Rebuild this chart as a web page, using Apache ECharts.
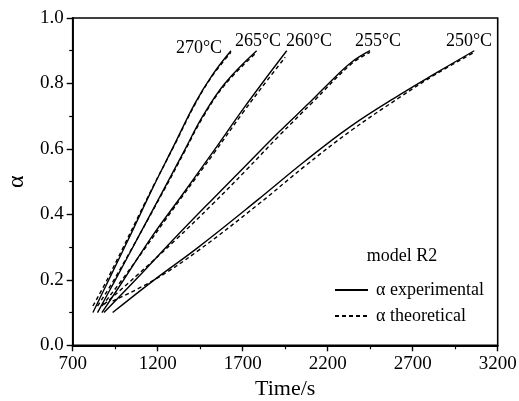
<!DOCTYPE html>
<html>
<head>
<meta charset="utf-8">
<script src="https://cdn.jsdelivr.net/npm/echarts@6/dist/echarts.min.js"></script>
<style>
html,body{margin:0;padding:0;background:#fff;}
#chart{width:519px;height:401px;}
</style>
</head>
<body>
<div id="chart"></div>
<script>
// ---- data (time in s, alpha) ----
const tempLabels = ['270°C', '265°C', '260°C', '255°C', '250°C'];

const exp270 = [[819,0.10],[912,0.20],[1038,0.335],[1166,0.4755],[1295,0.61],[1420,0.74],[1520,0.825],[1631,0.90]];
const exp265 = [[846,0.10],[951,0.20],[1090,0.335],[1235,0.4755],[1360,0.598],[1465,0.70],[1595,0.80],[1782,0.90]];
const exp260 = [[872,0.10],[1000,0.20],[1170,0.335],[1345,0.46],[1535,0.598],[1700,0.72],[1845,0.822],[1959,0.90]];
const exp255 = [[884,0.10],[1070,0.20],[1305,0.33],[1520,0.445],[1720,0.55],[1910,0.65],[2110,0.75],[2225,0.81],[2340,0.865],[2449,0.90]];
const exp250 = [[935,0.10],[1180,0.20],[1440,0.30],[1790,0.445],[2060,0.56],[2335,0.669],[2625,0.766],[2841,0.833],[3062,0.90]];

const theo270 = [[819,0.12],[912,0.21],[1166,0.478],[1295,0.608],[1420,0.737],[1520,0.822],[1631,0.895]];
const theo265 = [[846,0.12],[951,0.207],[1235,0.472],[1360,0.594],[1465,0.696],[1595,0.796],[1782,0.895]];
const theo260 = [[872,0.12],[1000,0.207],[1345,0.455],[1535,0.59],[1700,0.71],[1845,0.81],[1950,0.88]];
const theo255 = [[884,0.125],[1070,0.21],[1305,0.322],[1520,0.43],[1720,0.535],[1910,0.638],[2110,0.742],[2340,0.86],[2449,0.895]];
const theo250 = [[935,0.135],[1180,0.20],[1440,0.29],[1790,0.43],[2060,0.545],[2335,0.655],[2625,0.758],[2841,0.83],[3062,0.895]];

const xMin = 700, xMax = 3200, xStep = 500;
const yMin = 0, yMax = 1.0, yStep = 0.2;

const expName = 'α experimental';
const theoName = 'α theoretical';
const modelText = 'model R2';

// ---- chart ----
const FONT = '"Liberation Serif", "Times New Roman", serif';
const chart = echarts.init(document.getElementById('chart'), null, {renderer: 'canvas'});

const expSets = [exp270, exp265, exp260, exp255, exp250];
const theoSets = [theo270, theo265, theo260, theo255, theo250];

const series = [];
expSets.forEach(d => series.push({
  name: expName, type: 'line', data: d, symbol: 'none', showSymbol: false, smooth: 0.4,
  lineStyle: {color: '#000', width: 1.4, type: 'solid'}, itemStyle: {color: '#000'},
  z: 3
}));
theoSets.forEach(d => series.push({
  name: theoName, type: 'line', data: d, symbol: 'none', showSymbol: false, smooth: 0.4,
  lineStyle: {color: '#000', width: 1.4, type: [4, 3]}, itemStyle: {color: '#000'},
  z: 2
}));

// label pixel positions (centers)
const labelPos = [[199, 48], [258, 41], [309, 41], [378, 41], [469, 41]];

chart.setOption({
  animation: false,
  backgroundColor: '#fff',
  grid: {left: 72.7, right: 21.3, top: 18, bottom: 55.7, containLabel: false, outerBoundsMode: 'none',
         show: true, borderColor: '#000', borderWidth: 1.6, backgroundColor: 'transparent'},
  xAxis: {
    type: 'value', min: xMin, max: xMax, interval: xStep,
    name: 'Time/s', nameLocation: 'middle', nameGap: 33,
    nameTextStyle: {fontFamily: FONT, fontSize: 22, color: '#000'},
    axisLine: {show: true, onZero: false, lineStyle: {color: '#000', width: 1.8}},
    axisTick: {show: true, inside: false, length: 6, lineStyle: {color: '#000', width: 1.4}},
    minorTick: {show: true, splitNumber: 2, length: 4, lineStyle: {color: '#000', width: 1.2}},
    axisLabel: {fontFamily: FONT, fontSize: 19, color: '#000', margin: 9, formatter: v => String(v)},
    splitLine: {show: false}
  },
  yAxis: {
    type: 'value', min: yMin, max: yMax, interval: yStep,
    name: 'α', nameLocation: 'middle', nameGap: 36, nameRotate: 90,
    nameTextStyle: {fontFamily: FONT, fontSize: 24, color: '#000'},
    axisLine: {show: true, onZero: false, lineStyle: {color: '#000', width: 1.8}},
    axisTick: {show: true, inside: false, length: 6, lineStyle: {color: '#000', width: 1.4}},
    minorTick: {show: true, splitNumber: 2, length: 3.5, lineStyle: {color: '#000', width: 1.2}},
    axisLabel: {fontFamily: FONT, fontSize: 19, color: '#000', margin: 9, formatter: v => v.toFixed(1)},
    splitLine: {show: false}
  },
  legend: {
    show: true,
    data: [expName, theoName],
    orient: 'vertical', left: 334, top: 281, padding: 0,
    itemWidth: 33, itemHeight: 14, itemGap: 8,
    itemStyle: {opacity: 0, borderWidth: 0},
    textStyle: {fontFamily: FONT, fontSize: 18, color: '#000', padding: [0, 0, 0, 3]},
    selectedMode: false
  },
  graphic: [
    {type: 'text', left: 366.7, top: 247, style: {text: modelText, font: '18px ' + FONT, fill: '#000'}}
  ].concat(tempLabels.map((t, i) => ({
    type: 'text', x: labelPos[i][0], y: labelPos[i][1],
    style: {text: t, font: '18px ' + FONT, fill: '#000', align: 'center', verticalAlign: 'middle'}
  }))),
  series: series
});
</script>
</body>
</html>
